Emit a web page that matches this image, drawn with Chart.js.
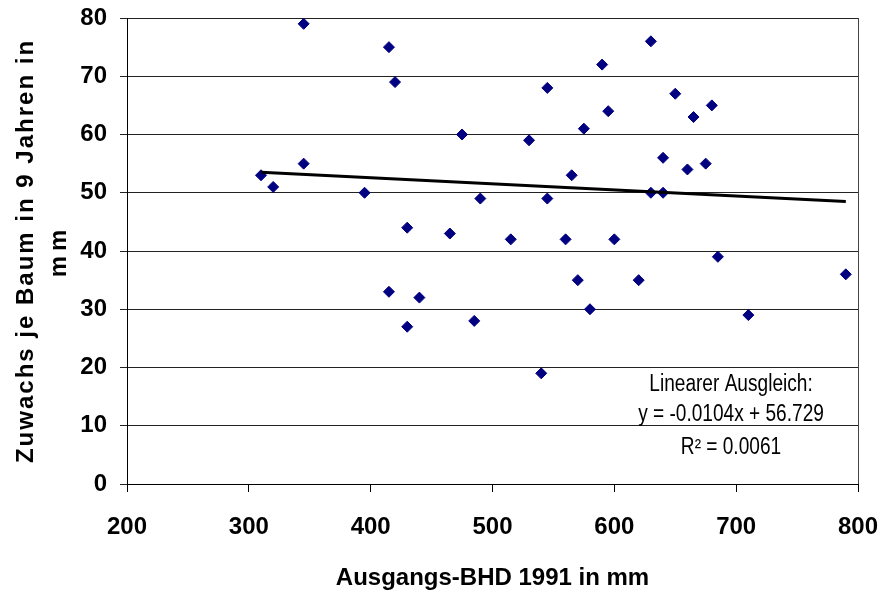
<!DOCTYPE html>
<html>
<head>
<meta charset="utf-8">
<script src="https://cdn.jsdelivr.net/npm/chart.js@4/dist/chart.umd.min.js"></script>
<style>
  html, body { margin: 0; padding: 0; background: #fff; }
  #wrap { width: 882px; height: 597px; }
</style>
</head>
<body>
<div id="wrap"><canvas id="chart"></canvas></div>
<script>
// Ausgangs-BHD 1991 (mm) / Zuwachs in 9 Jahren (mm)
const bhd = [310, 320, 345, 345, 395, 415, 420, 415, 430, 430, 440, 465, 475, 485, 490,
             515, 530, 540, 545, 545, 560, 565, 570, 575, 580, 590, 595, 600, 620, 630,
             630, 640, 640, 650, 660, 665, 675, 680, 685, 710, 790];
const zuwachs = [53, 51, 79, 55, 50, 75, 69, 33, 44, 27, 32, 43, 60, 28, 49,
                 42, 59, 19, 68, 49, 42, 53, 35, 61, 30, 72, 64, 42, 35, 76,
                 50, 56, 50, 67, 54, 63, 55, 65, 39, 29, 36];

// linearer Ausgleich (Endpunkte wie im Bild)
const trendX = [310, 790];
const trendY = [53.5, 48.5];

const annotLines = ['Linearer Ausgleich:', 'y = -0.0104x + 56.729', 'R\u00b2 = 0.0061'];
const yTitle = ['Zuwachs je Baum in 9 Jahren in', 'mm'];
const xTitle = 'Ausgangs-BHD 1991 in mm';

const FONT = "'Liberation Sans', Arial, sans-serif";

const textPlugin = {
  id: 'texts',
  afterDraw(chart) {
    const ctx = chart.ctx;
    const area = chart.chartArea;
    ctx.save();
    // rechter Rahmen
    ctx.strokeStyle = '#444';
    ctx.lineWidth = 1;
    ctx.beginPath();
    ctx.moveTo(area.right + 0.5, area.top);
    ctx.lineTo(area.right + 0.5, area.bottom);
    ctx.stroke();

    // Y-Achsentitel
    ctx.fillStyle = '#000';
    ctx.font = 'bold 24px ' + FONT;
    ctx.textAlign = 'center';
    ctx.textBaseline = 'alphabetic';
    ctx.translate(33, 251);
    ctx.rotate(-Math.PI / 2);
    ctx.letterSpacing = '2px';
    ctx.fillText(yTitle[0], 0, 0);
    ctx.letterSpacing = '5px';
    ctx.fillText(yTitle[1], 0, 33);
    ctx.restore();

    // Gleichung (schmal gesetzt wie im Original)
    ctx.save();
    ctx.fillStyle = '#000';
    ctx.font = '23px ' + FONT;
    ctx.textAlign = 'center';
    ctx.textBaseline = 'middle';
    ctx.translate(731, 0);
    ctx.scale(0.83, 1);
    ctx.fillText(annotLines[0], 0, 385);
    ctx.fillText(annotLines[1], 0, 415);
    ctx.fillText(annotLines[2], 0, 448);
    ctx.restore();
  }
};

new Chart(document.getElementById('chart'), {
  type: 'scatter',
  data: {
    datasets: [
      {
        label: 'Zuwachs',
        data: bhd.map((x, i) => ({ x, y: zuwachs[i] })),
        pointStyle: 'rectRot',
        pointRadius: 5.5,
        pointBackgroundColor: '#000080',
        pointBorderColor: '#000080',
        pointBorderWidth: 1,
        order: 1
      },
      {
        label: 'Linearer Ausgleich',
        data: trendX.map((x, i) => ({ x, y: trendY[i] })),
        showLine: true,
        borderColor: '#000',
        borderWidth: 3,
        pointRadius: 0,
        order: 0
      }
    ]
  },
  options: {
    responsive: true, maintainAspectRatio: false,
    animation: false,
    layout: { padding: { top: 18, right: 24, left: 0, bottom: 0 } },
    plugins: { legend: { display: false }, tooltip: { enabled: false } },
    scales: {
      x: {
        type: 'linear', min: 200, max: 800,
        ticks: { stepSize: 100, padding: 21, color: '#000', font: { family: FONT, size: 24, weight: 'bold' } },
        grid: { drawOnChartArea: false, drawTicks: true, tickLength: 8, color: '#000' },
        border: { color: '#000', width: 1 },
        title: { display: true, text: xTitle, color: '#000', padding: { top: 0, bottom: 4 },
                 font: { family: FONT, size: 24, weight: 'bold' } },
        afterFit(scale) { scale.height = 113; scale.paddingLeft = 0; scale.paddingRight = 0; }
      },
      y: {
        min: 0, max: 80,
        ticks: { stepSize: 10, padding: 13, color: '#000', font: { family: FONT, size: 24, weight: 'bold' } },
        grid: { color: '#222', tickLength: 7, drawTicks: true },
        border: { color: '#000', width: 1 },
        afterFit(scale) { scale.width = 127; scale.paddingTop = 0; scale.paddingBottom = 0; }
      }
    }
  },
  plugins: [textPlugin]
});
</script>
</body>
</html>
